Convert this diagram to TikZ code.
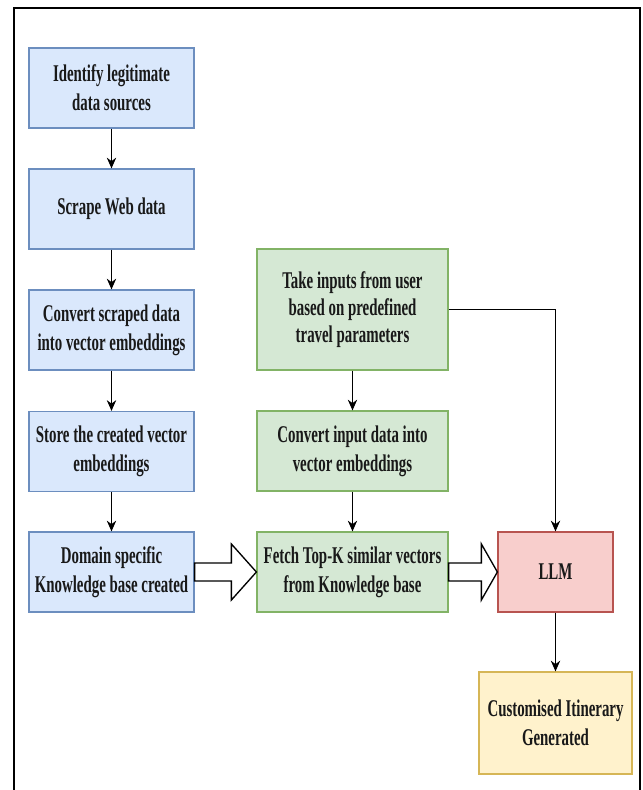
\documentclass[tikz,border=0pt]{standalone}
\usepackage{fontspec}
\setmainfont{Liberation Serif}[FakeStretch=0.62]
\usepackage{tikz}
\usetikzlibrary{positioning, arrows.meta, calc}
\definecolor{blueF}{HTML}{DAE8FC}
\definecolor{blueD}{HTML}{6C8EBF}
\definecolor{greenF}{HTML}{D5E8D4}
\definecolor{greenD}{HTML}{82B366}
\definecolor{redF}{HTML}{F8CECC}
\definecolor{redD}{HTML}{B85450}
\definecolor{yellowF}{HTML}{FFF2CC}
\definecolor{yellowD}{HTML}{D6B656}
\tikzset{
block/.style={
  draw, 
  rectangle, 
  line width=0.9pt,
  inner sep=1pt,
  text=black!90,
  font=\fontsize{18}{22}\selectfont\bfseries,
  align=center
  }, 
bluebox/.style={block, fill=blueF, draw=blueD, minimum width=123.75pt, minimum height=60pt},
greenbox/.style={block, fill=greenF, draw=greenD, minimum width=143.25pt, minimum height=60pt},
line/.style={->,>={Stealth[length=8pt,width=7pt,inset=2.5pt]}, line width=1pt},
hollow/.style={draw, fill=white, line width=1pt, line join=miter}
}

\begin{document}
\begin{tikzpicture}[x=0.75pt, y=-0.75pt]
\useasboundingbox (0,0) rectangle (643,790);
\draw[line width=1.5pt] (14,800) -- (14,8) -- (640,8) -- (640,800);
% left column
\node[bluebox] (src) at (111.5,88) {Identify legitimate\\data sources};
\node[bluebox] (scrape) at (111.5,209) {Scrape Web data};
\node[bluebox] (conv) at (111.5,330) {Convert scraped data\\into vector embeddings};
\node[bluebox] (store) at (111.5,451.5) {Store the created vector\\embeddings};
\node[bluebox] (kb) at (111.5,572) {Domain specific\\Knowledge base created};
% middle column
\node[greenbox, minimum height=90.75pt, font=\fontsize{18}{20.5}\selectfont\bfseries] (user) at (352.5,309.5) {Take inputs from user\\based on predefined\\travel parameters};
\node[greenbox] (embed) at (352.5,451) {Convert input data into\\vector embeddings};
\node[greenbox] (fetch) at (352.5,572) {Fetch Top-K similar vectors\\from Knowledge base};
% right column
\node[block, fill=redF, draw=redD, minimum width=86.25pt, minimum height=60pt] (llm) at (555.5,572) {LLM};
\node[block, fill=yellowF, draw=yellowD, minimum width=114.75pt, minimum height=76.5pt] (out) at (555.5,723) {Customised Itinerary\\Generated};

\draw[line] (src) -- (scrape);
\draw[line] (scrape) -- (conv);
\draw[line] (conv) -- (store);
\draw[line] (store) -- (kb);
\draw[line] (user) -- (embed);
\draw[line] (embed) -- (fetch);
\draw[line] (user.east) -| (llm.north);
\draw[line] (llm) -- (out);

\draw[hollow] let \p1=(kb.east), \p2=(fetch.west) in
  (\x1,\y1+6.75pt) -- (\x2-18.75pt,\y1+6.75pt) -- (\x2-18.75pt,\y1+21pt) -- (\x2,\y1)
  -- (\x2-18.75pt,\y1-21pt) -- (\x2-18.75pt,\y1-6.75pt) -- (\x1,\y1-6.75pt) -- cycle;
\draw[hollow] let \p1=(fetch.east), \p2=(llm.west) in
  (\x1,\y1+6.75pt) -- (\x2-12pt,\y1+6.75pt) -- (\x2-12pt,\y1+21pt) -- (\x2,\y1)
  -- (\x2-12pt,\y1-21pt) -- (\x2-12pt,\y1-6.75pt) -- (\x1,\y1-6.75pt) -- cycle;
\end{tikzpicture}
\end{document}
